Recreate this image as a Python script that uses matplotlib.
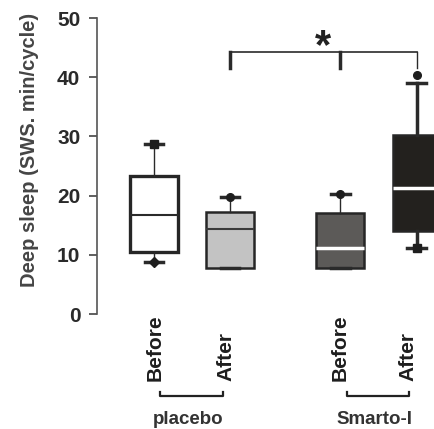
import matplotlib
matplotlib.use("Agg")
import matplotlib.pyplot as plt
import matplotlib.transforms as mtransforms

# Data
conditions = ["Before", "After", "Before", "After"]
groups = ["placebo", "Smarto-I"]
q1 = [10.5, 7.8, 7.8, 14.1]
medians = [16.7, 14.4, 11.2, 21.3]
q3 = [23.3, 17.3, 17.1, 30.2]
whis_low = [8.8, 7.8, 7.8, 11.2]
whis_high = [28.8, 19.8, 20.3, 39.0]
extreme_points = [[28.8, 8.8], [19.8], [20.3], [40.3, 11.2]]
yticks = [0, 10, 20, 30, 40, 50]

positions = [1, 2, 3.45, 4.45]
face_colors = ["white", "#c3c3c3", "#5c5a58", "#23211e"]
median_colors = ["#2a2a2a", "#3a3a3a", "white", "white"]
whisker_widths = [1.0, 1.0, 1.0, 2.5]
point_markers = [["s", "D"], ["o"], ["o"], ["o", "s"]]

plt.rcParams["font.family"] = ["Liberation Sans", "DejaVu Sans"]

fig = plt.figure(figsize=(4.34, 4.29), dpi=100)
ax = fig.add_axes([97 / 434, (429 - 314) / 429, 1 - 97 / 434, 296 / 429])

stats = []
for i in range(len(conditions)):
    stats.append({"med": medians[i], "q1": q1[i], "q3": q3[i],
                  "whislo": whis_low[i], "whishi": whis_high[i], "fliers": []})

bp = ax.bxp(stats, positions=positions, widths=0.63, patch_artist=True,
            showfliers=False, capwidths=0.24)
for i, box in enumerate(bp["boxes"]):
    box.set_facecolor(face_colors[i])
    box.set_edgecolor("#262626")
    box.set_linewidth(2.4 if i == 0 else 1.8)
for i, m in enumerate(bp["medians"]):
    m.set_color(median_colors[i])
    m.set_linewidth(1.5 if i < 2 else 2.5)
for i, w in enumerate(bp["whiskers"]):
    w.set_color("#2a2a2a")
    w.set_linewidth(whisker_widths[i // 2])
for c in bp["caps"]:
    c.set_color("#2a2a2a")
    c.set_linewidth(2.5)

for i, pts in enumerate(extreme_points):
    for v, mk in zip(pts, point_markers[i]):
        ax.plot(positions[i], v, marker=mk, color="#1e1e1e", markersize=5.5,
                linestyle="none", zorder=5)

# significance bracket
br_top = 44.2
br_leg = 41.5
x_l, x_m, x_r = positions[1], positions[2], positions[3]
ax.plot([x_l, x_r], [br_top, br_top], color="#2a2a2a", lw=1.2, clip_on=False)
ax.plot([x_l, x_l], [br_top, br_leg], color="#2a2a2a", lw=2.5, clip_on=False)
ax.plot([x_m, x_m], [br_top, br_leg], color="#2a2a2a", lw=2.5, clip_on=False)
ax.plot([x_r, x_r], [br_top, br_leg], color="#2a2a2a", lw=1.0, clip_on=False)
ax.text((x_l + x_r) / 2, 48.4, "*", ha="center", va="top",
        fontsize=30, fontweight="bold", color="#222222")

ax.set_xlim(0.25, 4.68)
ax.set_ylim(0, 50)
ax.set_yticks(yticks)
ax.set_yticklabels([str(t) for t in yticks], fontsize=15, fontweight="bold",
                   color="#2a2a2a")
ax.tick_params(axis="y", length=6, width=1.2, color="#444444", pad=6)
ax.set_xticks([])
ax.text(-0.199, 0.554, "Deep sleep (SWS. min/cycle)", rotation=90,
        ha="center", va="center", fontsize=14.5, fontweight="bold",
        color="#454545", transform=ax.transAxes)

for s in ["top", "right", "bottom"]:
    ax.spines[s].set_visible(False)
ax.spines["left"].set_color("#555555")
ax.spines["left"].set_linewidth(1.2)

trans = mtransforms.blended_transform_factory(ax.transData, ax.transAxes)
label_shift = [0.01, -0.06, 0.0, -0.11]
for i, cond in enumerate(conditions):
    ax.text(positions[i] + label_shift[i], -0.226, cond, rotation=90,
            ha="center", va="bottom", fontsize=15, fontweight="bold",
            color="#1e1e1e", transform=trans)

for g, name in enumerate(groups):
    a = positions[2 * g]
    b = positions[2 * g + 1]
    ax.plot([a + 0.08, a + 0.08, b - 0.1, b - 0.1],
            [-0.263, -0.277, -0.277, -0.263], color="#222222", lw=1.6,
            transform=trans, clip_on=False)
    ax.text((a + b) / 2 - 0.05, -0.355, name, ha="center", va="center",
            fontsize=13.5, fontweight="bold", color="#333333",
            transform=trans)

fig.savefig("out.png", dpi=100)
